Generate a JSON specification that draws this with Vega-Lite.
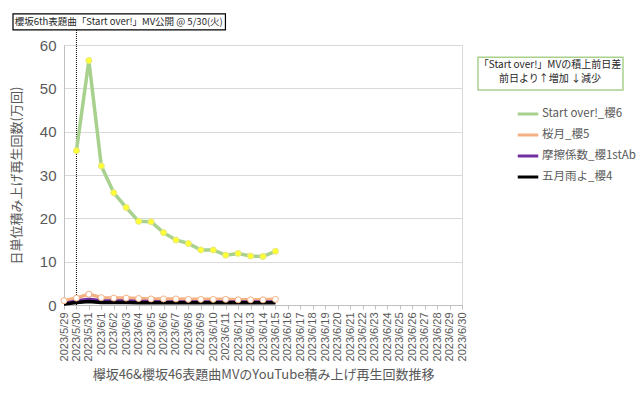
{
  "$schema": "https://vega.github.io/schema/vega-lite/v6.json",
  "width": 398,
  "height": 260,
  "autosize": {"type": "none"},
  "padding": {"left": 64, "top": 45, "right": 178, "bottom": 92},
  "background": "white",
  "config": {
    "font": "Noto Sans CJK JP",
    "view": {"stroke": "#d9d9d9", "strokeWidth": 1}
  },
  "datasets": {
    "series": [
      {"date": "2023/5/30", "series": "Start over!_櫻6", "value": 35.6},
      {"date": "2023/5/31", "series": "Start over!_櫻6", "value": 56.4},
      {"date": "2023/6/1", "series": "Start over!_櫻6", "value": 32.1},
      {"date": "2023/6/2", "series": "Start over!_櫻6", "value": 25.9},
      {"date": "2023/6/3", "series": "Start over!_櫻6", "value": 22.5},
      {"date": "2023/6/4", "series": "Start over!_櫻6", "value": 19.3},
      {"date": "2023/6/5", "series": "Start over!_櫻6", "value": 19.2},
      {"date": "2023/6/6", "series": "Start over!_櫻6", "value": 16.7},
      {"date": "2023/6/7", "series": "Start over!_櫻6", "value": 15.0},
      {"date": "2023/6/8", "series": "Start over!_櫻6", "value": 14.2},
      {"date": "2023/6/9", "series": "Start over!_櫻6", "value": 12.7},
      {"date": "2023/6/10", "series": "Start over!_櫻6", "value": 12.7},
      {"date": "2023/6/11", "series": "Start over!_櫻6", "value": 11.5},
      {"date": "2023/6/12", "series": "Start over!_櫻6", "value": 11.9},
      {"date": "2023/6/13", "series": "Start over!_櫻6", "value": 11.3},
      {"date": "2023/6/14", "series": "Start over!_櫻6", "value": 11.2},
      {"date": "2023/6/15", "series": "Start over!_櫻6", "value": 12.4},
      {"date": "2023/5/29", "series": "桜月_櫻5", "value": 1.0},
      {"date": "2023/5/30", "series": "桜月_櫻5", "value": 1.6},
      {"date": "2023/5/31", "series": "桜月_櫻5", "value": 2.5},
      {"date": "2023/6/1", "series": "桜月_櫻5", "value": 1.7},
      {"date": "2023/6/2", "series": "桜月_櫻5", "value": 1.6},
      {"date": "2023/6/3", "series": "桜月_櫻5", "value": 1.6},
      {"date": "2023/6/4", "series": "桜月_櫻5", "value": 1.5},
      {"date": "2023/6/5", "series": "桜月_櫻5", "value": 1.4},
      {"date": "2023/6/6", "series": "桜月_櫻5", "value": 1.4},
      {"date": "2023/6/7", "series": "桜月_櫻5", "value": 1.4},
      {"date": "2023/6/8", "series": "桜月_櫻5", "value": 1.3},
      {"date": "2023/6/9", "series": "桜月_櫻5", "value": 1.3},
      {"date": "2023/6/10", "series": "桜月_櫻5", "value": 1.3},
      {"date": "2023/6/11", "series": "桜月_櫻5", "value": 1.3},
      {"date": "2023/6/12", "series": "桜月_櫻5", "value": 1.2},
      {"date": "2023/6/13", "series": "桜月_櫻5", "value": 1.2},
      {"date": "2023/6/14", "series": "桜月_櫻5", "value": 1.2},
      {"date": "2023/6/15", "series": "桜月_櫻5", "value": 1.3},
      {"date": "2023/5/29", "series": "摩擦係数_櫻1stAb", "value": 0.3},
      {"date": "2023/5/30", "series": "摩擦係数_櫻1stAb", "value": 0.9},
      {"date": "2023/5/31", "series": "摩擦係数_櫻1stAb", "value": 1.3},
      {"date": "2023/6/1", "series": "摩擦係数_櫻1stAb", "value": 1.0},
      {"date": "2023/6/2", "series": "摩擦係数_櫻1stAb", "value": 0.9},
      {"date": "2023/6/3", "series": "摩擦係数_櫻1stAb", "value": 0.9},
      {"date": "2023/6/4", "series": "摩擦係数_櫻1stAb", "value": 0.8},
      {"date": "2023/6/5", "series": "摩擦係数_櫻1stAb", "value": 0.8},
      {"date": "2023/6/6", "series": "摩擦係数_櫻1stAb", "value": 0.7},
      {"date": "2023/6/7", "series": "摩擦係数_櫻1stAb", "value": 0.7},
      {"date": "2023/6/8", "series": "摩擦係数_櫻1stAb", "value": 0.7},
      {"date": "2023/6/9", "series": "摩擦係数_櫻1stAb", "value": 0.7},
      {"date": "2023/6/10", "series": "摩擦係数_櫻1stAb", "value": 0.7},
      {"date": "2023/6/11", "series": "摩擦係数_櫻1stAb", "value": 0.7},
      {"date": "2023/6/12", "series": "摩擦係数_櫻1stAb", "value": 0.7},
      {"date": "2023/6/13", "series": "摩擦係数_櫻1stAb", "value": 0.7},
      {"date": "2023/6/14", "series": "摩擦係数_櫻1stAb", "value": 0.7},
      {"date": "2023/6/15", "series": "摩擦係数_櫻1stAb", "value": 0.7},
      {"date": "2023/5/29", "series": "五月雨よ_櫻4", "value": 0.2},
      {"date": "2023/5/30", "series": "五月雨よ_櫻4", "value": 0.6},
      {"date": "2023/5/31", "series": "五月雨よ_櫻4", "value": 0.8},
      {"date": "2023/6/1", "series": "五月雨よ_櫻4", "value": 0.6},
      {"date": "2023/6/2", "series": "五月雨よ_櫻4", "value": 0.6},
      {"date": "2023/6/3", "series": "五月雨よ_櫻4", "value": 0.6},
      {"date": "2023/6/4", "series": "五月雨よ_櫻4", "value": 0.5},
      {"date": "2023/6/5", "series": "五月雨よ_櫻4", "value": 0.5},
      {"date": "2023/6/6", "series": "五月雨よ_櫻4", "value": 0.5},
      {"date": "2023/6/7", "series": "五月雨よ_櫻4", "value": 0.5},
      {"date": "2023/6/8", "series": "五月雨よ_櫻4", "value": 0.5},
      {"date": "2023/6/9", "series": "五月雨よ_櫻4", "value": 0.5},
      {"date": "2023/6/10", "series": "五月雨よ_櫻4", "value": 0.5},
      {"date": "2023/6/11", "series": "五月雨よ_櫻4", "value": 0.5},
      {"date": "2023/6/12", "series": "五月雨よ_櫻4", "value": 0.5},
      {"date": "2023/6/13", "series": "五月雨よ_櫻4", "value": 0.5},
      {"date": "2023/6/14", "series": "五月雨よ_櫻4", "value": 0.5},
      {"date": "2023/6/15", "series": "五月雨よ_櫻4", "value": 0.5}
    ]
  },
  "encoding": {
    "x": {
      "field": "date",
      "type": "ordinal",
      "sort": null,
      "scale": {
        "type": "point",
        "padding": 0,
        "domain": ["2023/5/29","2023/5/30","2023/5/31","2023/6/1","2023/6/2","2023/6/3","2023/6/4","2023/6/5","2023/6/6","2023/6/7","2023/6/8","2023/6/9","2023/6/10","2023/6/11","2023/6/12","2023/6/13","2023/6/14","2023/6/15","2023/6/16","2023/6/17","2023/6/18","2023/6/19","2023/6/20","2023/6/21","2023/6/22","2023/6/23","2023/6/24","2023/6/25","2023/6/26","2023/6/27","2023/6/28","2023/6/29","2023/6/30"]
      },
      "axis": {
        "title": "欅坂46&櫻坂46表題曲MVのYouTube積み上げ再生回数推移",
        "titleFont": "Noto Sans CJK JP",
        "titleFontSize": 13,
        "titleFontWeight": "normal",
        "titleColor": "#595959",
        "titlePadding": 8,
        "labelAngle": -90,
        "labelFontSize": 11,
        "labelColor": "#595959",
        "labelFont": "Liberation Sans",
        "labelPadding": 3,
        "domainColor": "#bfbfbf",
        "tickColor": "#bfbfbf",
        "tickSize": 4,
        "grid": false
      }
    }
  },
  "layer": [
    {
      "data": {"values": [{"date": "2023/5/30", "lo": 0, "hi": 63.5}]},
      "mark": {"type": "rule", "color": "#000000", "strokeWidth": 1, "strokeDash": [1, 1]},
      "encoding": {
        "y": {"field": "lo", "type": "quantitative", "scale": {"domain": [0, 60], "nice": false},
          "axis": {
            "title": "日単位積み上げ再生回数(万回)",
            "titleFont": "Noto Sans CJK JP",
            "titleFontSize": 13,
            "titleFontWeight": "normal",
            "titleColor": "#595959",
            "titlePadding": 16,
            "values": [0,5,10,15,20,25,30,35,40,45,50,55,60],
            "labelExpr": "datum.value % 10 === 0 ? datum.label : ''",
            "labelFontSize": 15,
            "labelColor": "#595959",
            "labelFont": "Liberation Sans",
            "labelPadding": 8,
            "ticks": false,
            "domain": true,
            "domainColor": "#bfbfbf",
            "grid": true,
            "gridColor": {"condition": {"test": "datum.value % 10 === 5", "value": "#f2f2f2"}, "value": "#d9d9d9"}
          }},
        "y2": {"field": "hi"}
      }
    },
    {
      "data": {"name": "series"},
      "mark": {"type": "line", "strokeWidth": 3.5},
      "encoding": {
        "y": {"field": "value", "type": "quantitative"},
        "color": {
          "field": "series",
          "type": "nominal",
          "scale": {
            "domain": ["Start over!_櫻6", "桜月_櫻5", "摩擦係数_櫻1stAb", "五月雨よ_櫻4"],
            "range": ["#a9d18e", "#f4b183", "#7030a0", "#000000"]
          },
          "legend": {
            "title": null,
            "orient": "none",
            "legendX": 452,
            "legendY": 57,
            "symbolType": "stroke",
            "symbolSize": 420,
            "symbolStrokeWidth": 3,
            "labelFontSize": 11.5,
            "labelColor": "#595959",
            "labelFont": "Noto Sans CJK JP",
            "labelOffset": 2,
            "rowPadding": 3
          }
        }
      }
    },
    {
      "data": {"name": "series"},
      "transform": [{"filter": "datum.series === 'Start over!_櫻6' || datum.series === '桜月_櫻5'"}],
      "mark": {"type": "point", "filled": true, "size": 36, "strokeWidth": 1, "opacity": 1},
      "encoding": {
        "y": {"field": "value", "type": "quantitative"},
        "fill": {"condition": {"test": "datum.series === 'Start over!_櫻6'", "value": "#ffff33"}, "value": "#ffffff"},
        "stroke": {"condition": {"test": "datum.series === 'Start over!_櫻6'", "value": "#e6e680"}, "value": "#f4b183"}
      }
    },
    {
      "data": {"values": [{"a": "2023/5/29", "b": "2023/6/15", "lo": 63.5, "hi": 67.2}]},
      "mark": {"type": "rect", "fill": "#ffffff", "stroke": "#000000", "strokeWidth": 1.2, "xOffset": -51, "x2Offset": -50},
      "encoding": {
        "x": {"field": "a", "type": "ordinal"},
        "x2": {"field": "b"},
        "y": {"field": "lo", "type": "quantitative"},
        "y2": {"field": "hi"}
      }
    },
    {
      "data": {"values": [{"a": "2023/6/2", "v": 65.35, "t": "櫻坂6th表題曲「Start over!」MV公開 @ 5/30(火)"}]},
      "mark": {"type": "text", "fontSize": 9.5, "color": "#262626", "dx": 5, "baseline": "middle", "align": "center"},
      "encoding": {
        "x": {"field": "a", "type": "ordinal"},
        "y": {"field": "v", "type": "quantitative"},
        "text": {"field": "t"}
      }
    },
    {
      "data": {"values": [{"a": "2023/6/30", "lo": 49.6, "hi": 57.2}]},
      "mark": {"type": "rect", "fill": "#ffffff", "stroke": "#a9d18e", "strokeWidth": 1.5, "xOffset": 16, "x2Offset": 161},
      "encoding": {
        "x": {"field": "a", "type": "ordinal"},
        "x2": {"field": "a"},
        "y": {"field": "lo", "type": "quantitative"},
        "y2": {"field": "hi"}
      }
    },
    {
      "data": {"values": [
        {"a": "2023/6/30", "v": 55.5, "t": "「Start over!」MVの積上前日差"},
        {"a": "2023/6/30", "v": 52.2, "t": "前日より↑増加 ↓減少"}
      ]},
      "mark": {"type": "text", "fontSize": 10, "color": "#262626", "dx": 88, "baseline": "middle", "align": "center"},
      "encoding": {
        "x": {"field": "a", "type": "ordinal"},
        "y": {"field": "v", "type": "quantitative"},
        "text": {"field": "t"}
      }
    }
  ]
}
